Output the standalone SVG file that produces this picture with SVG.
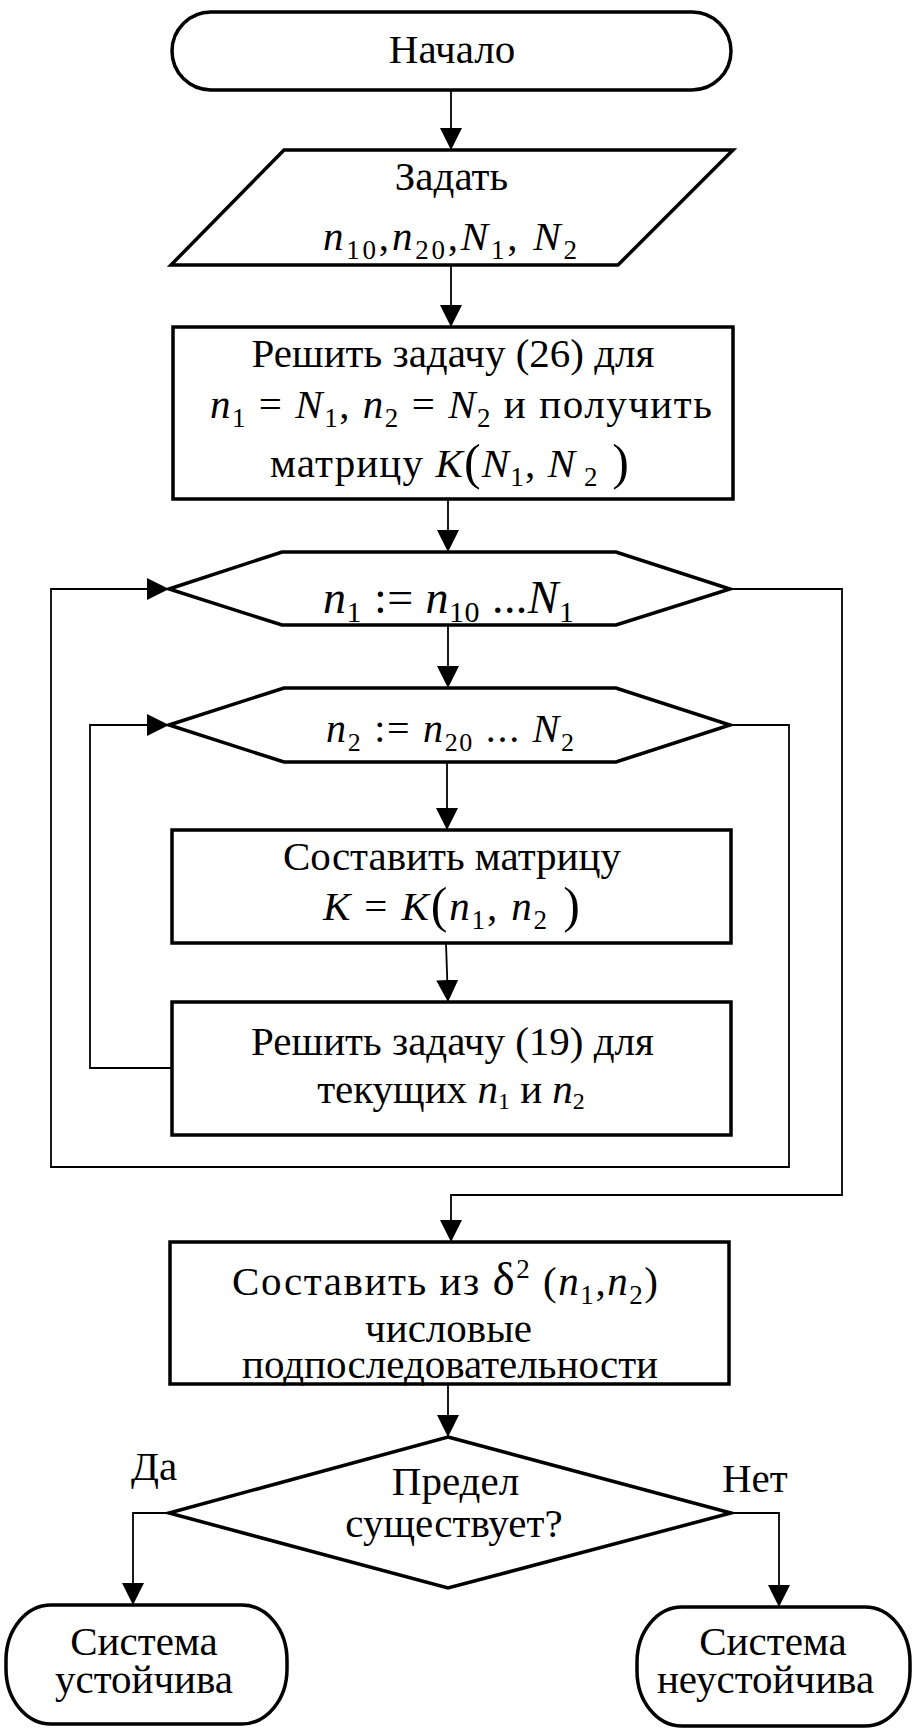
<svg xmlns="http://www.w3.org/2000/svg" width="913" height="1728" viewBox="0 0 913 1728">
<defs>
<style>
.t{font-size:41px}
.big{font-size:46px}
.mid{font-size:40px}
.i{font-style:italic}
.s{font-size:27px}
.bs{font-size:30px}
.ms{font-size:26px}
.ss{font-size:24px}
.par{font-size:50px}
.dl{font-size:47px}
.shape{fill:#fff;stroke:#000;stroke-width:3.5;stroke-linejoin:miter}
.conn{fill:none;stroke:#000;stroke-width:1.8}
</style>
<marker id="ah" markerUnits="userSpaceOnUse" viewBox="0 0 22 22" markerWidth="22" markerHeight="22" refX="22" refY="11" orient="auto">
<path d="M0,0 L22,11 L0,22 z" fill="#000"/>
</marker>
</defs>
<rect width="913" height="1728" fill="#fff"/>

<g id="connectors">
<line class="conn" x1="451" y1="91" x2="451" y2="150" marker-end="url(#ah)"/>
<line class="conn" x1="451" y1="265" x2="451" y2="327" marker-end="url(#ah)"/>
<line class="conn" x1="448" y1="499" x2="448" y2="552" marker-end="url(#ah)"/>
<line class="conn" x1="448" y1="625" x2="448" y2="688" marker-end="url(#ah)"/>
<line class="conn" x1="447" y1="762" x2="447" y2="830" marker-end="url(#ah)"/>
<line class="conn" x1="446" y1="943" x2="448" y2="1002" marker-end="url(#ah)"/>
<polyline class="conn" points="172,1068 90,1068 90,725 169,725" marker-end="url(#ah)"/>
<polyline class="conn" points="730,725 789,725 789,1167 51,1167 51,589 169,589" marker-end="url(#ah)"/>
<polyline class="conn" points="730,589 842,589 842,1195 451,1195 451,1242" marker-end="url(#ah)"/>
<line class="conn" x1="448" y1="1384" x2="448" y2="1437" marker-end="url(#ah)"/>
<polyline class="conn" points="169,1513 133,1513 133,1605" marker-end="url(#ah)"/>
<polyline class="conn" points="731,1513 779,1513 779,1607" marker-end="url(#ah)"/>
</g>

<g id="start">
<rect class="shape" x="172" y="12" width="559" height="78" rx="39" ry="39"/>
<text font-family="Liberation Serif" class="t" x="452" y="63" text-anchor="middle">Начало</text>
</g>

<g id="input">
<polygon class="shape" points="284,150 733,150 618,265 171,265"/>
<text font-family="Liberation Serif" class="t" x="451.5" y="190" text-anchor="middle">Задать</text>
<text font-family="Liberation Serif" class="t" x="450" y="250" text-anchor="middle" textLength="254"><tspan class="i">n</tspan><tspan class="s" dy="9">10</tspan><tspan dy="-9">,</tspan><tspan class="i">n</tspan><tspan class="s" dy="9">20</tspan><tspan dy="-9">,</tspan><tspan class="i">N</tspan><tspan class="s" dy="9">1</tspan><tspan dy="-9">, </tspan><tspan class="i">N</tspan><tspan class="s" dy="9">2</tspan></text>
</g>

<g id="solve26">
<rect class="shape" x="173" y="327" width="560" height="172"/>
<text font-family="Liberation Serif" class="t" x="453" y="367" text-anchor="middle">Решить задачу (26) для</text>
<text font-family="Liberation Serif" class="t" x="461" y="418" text-anchor="middle" textLength="502"><tspan class="i">n</tspan><tspan class="s" dy="9">1</tspan><tspan dy="-9"> = </tspan><tspan class="i">N</tspan><tspan class="s" dy="9">1</tspan><tspan dy="-9">, </tspan><tspan class="i">n</tspan><tspan class="s" dy="9">2</tspan><tspan dy="-9"> = </tspan><tspan class="i">N</tspan><tspan class="s" dy="9">2</tspan><tspan dy="-9">  и получить</tspan></text>
<text font-family="Liberation Serif" class="t" x="449.5" y="477" text-anchor="middle" textLength="359">матрицу  <tspan class="i">K</tspan><tspan class="par" dy="2">(</tspan><tspan class="i" dy="-2">N</tspan><tspan class="s" dy="9">1</tspan><tspan dy="-9">, </tspan><tspan class="i">N</tspan><tspan class="s" dy="9"> 2</tspan><tspan class="par" dy="-7"> )</tspan></text>
</g>

<g id="loop1">
<polygon class="shape" points="169,589 282,552 616,552 730,589 616,625 282,625"/>
<text font-family="Liberation Serif" class="big" x="448.5" y="613" text-anchor="middle" textLength="251"><tspan class="i">n</tspan><tspan class="bs" dy="9">1</tspan><tspan dy="-9"> := </tspan><tspan class="i">n</tspan><tspan class="bs" dy="9">10</tspan><tspan dy="-9"> ...</tspan><tspan class="i">N</tspan><tspan class="bs" dy="9">1</tspan></text>
</g>

<g id="loop2">
<polygon class="shape" points="169,725 284,688 616,688 730,725 616,762 284,762"/>
<text font-family="Liberation Serif" class="mid" x="450" y="742" text-anchor="middle" textLength="248"><tspan class="i">n</tspan><tspan class="ms" dy="9">2</tspan><tspan dy="-9"> := </tspan><tspan class="i">n</tspan><tspan class="ms" dy="9">20</tspan><tspan dy="-9"> ... </tspan><tspan class="i">N</tspan><tspan class="ms" dy="9">2</tspan></text>
</g>

<g id="compose">
<rect class="shape" x="172" y="830" width="559" height="113"/>
<text font-family="Liberation Serif" class="t" x="452" y="870" text-anchor="middle">Составить матрицу</text>
<text font-family="Liberation Serif" class="t" x="451.5" y="920" text-anchor="middle" textLength="257"><tspan class="i">K</tspan> = <tspan class="i">K</tspan><tspan class="par" dy="2">(</tspan><tspan class="i" dy="-2">n</tspan><tspan class="s" dy="9">1</tspan><tspan dy="-9">, </tspan><tspan class="i">n</tspan><tspan class="s" dy="9">2</tspan><tspan class="par" dy="-7"> )</tspan></text>
</g>

<g id="solve19">
<rect class="shape" x="172" y="1002" width="559" height="133"/>
<text font-family="Liberation Serif" class="t" x="452.5" y="1055" text-anchor="middle">Решить задачу (19) для</text>
<text font-family="Liberation Serif" class="t" x="451" y="1103" text-anchor="middle">текущих <tspan class="i">n</tspan><tspan class="ss" dy="6">1</tspan><tspan dy="-6"> и </tspan><tspan class="i">n</tspan><tspan class="ss" dy="6">2</tspan></text>
</g>

<g id="subseq">
<rect class="shape" x="170" y="1242" width="559" height="142"/>
<text font-family="Liberation Serif" class="t" x="445" y="1295" text-anchor="middle" textLength="426">Составить из  <tspan class="dl">δ</tspan><tspan class="s" dy="-17">2</tspan><tspan dy="17"> (</tspan><tspan class="i">n</tspan><tspan class="s" dy="9">1</tspan><tspan dy="-9">,</tspan><tspan class="i">n</tspan><tspan class="s" dy="9">2</tspan><tspan dy="-9">)</tspan></text>
<text font-family="Liberation Serif" class="t" x="448.5" y="1342" text-anchor="middle">числовые</text>
<text font-family="Liberation Serif" class="t" x="450" y="1378" text-anchor="middle">подпоследовательности</text>
</g>

<g id="decision">
<polygon class="shape" points="448,1437 731,1513 448,1588 169,1513"/>
<text font-family="Liberation Serif" class="t" x="455.5" y="1495" text-anchor="middle">Предел</text>
<text font-family="Liberation Serif" class="t" x="454" y="1537" text-anchor="middle">существует?</text>
</g>

<g id="labels">
<text font-family="Liberation Serif" class="t" x="131" y="1480">Да</text>
<text font-family="Liberation Serif" class="t" x="722" y="1492">Нет</text>
</g>

<g id="stable">
<rect class="shape" x="6" y="1605" width="281" height="119" rx="45" ry="55"/>
<text font-family="Liberation Serif" class="t" x="144" y="1655" text-anchor="middle">Система</text>
<text font-family="Liberation Serif" class="t" x="144" y="1693" text-anchor="middle">устойчива</text>
</g>

<g id="unstable">
<rect class="shape" x="637" y="1607" width="273" height="119" rx="45" ry="55"/>
<text font-family="Liberation Serif" class="t" x="773" y="1655" text-anchor="middle">Система</text>
<text font-family="Liberation Serif" class="t" x="765.5" y="1693" text-anchor="middle">неустойчива</text>
</g>
</svg>
